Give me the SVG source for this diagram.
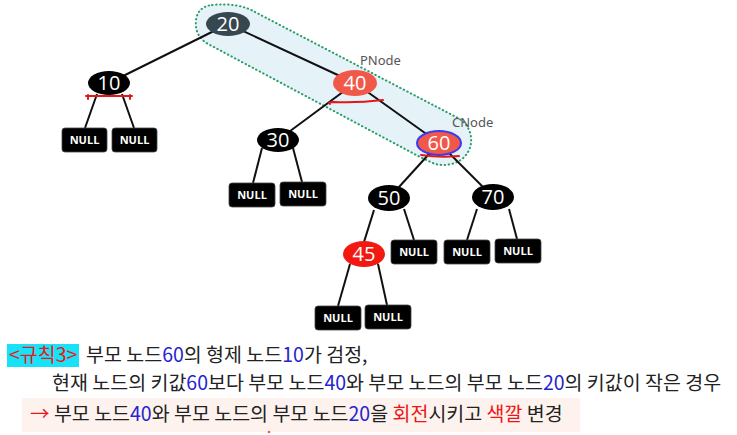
<svg xmlns="http://www.w3.org/2000/svg" width="737" height="435" viewBox="0 0 737 435">
<style>
.edge{stroke:#111;stroke-width:2;fill:none}
.node text{font-family:"Open Sans","Noto Sans",sans-serif;font-size:20px;fill:#fff;text-anchor:middle}
.nul rect{fill:#000;stroke:#444;stroke-width:0.8}
.nul text{font-family:"Open Sans","Noto Sans",sans-serif;font-size:11px;font-weight:bold;fill:#fff;text-anchor:middle}
.lbl{font-family:"Noto Sans","Open Sans",sans-serif;font-size:13px;fill:#555}
.kr{font-family:"Noto Sans CJK KR","Noto Sans",sans-serif;font-size:19.5px;fill:#222}
.b{fill:#2424d0}
.r{fill:#ee1515}
.mark{fill:none;stroke:#e01818;stroke-width:2;stroke-linecap:round}
</style>
<rect width="737" height="435" fill="#fff"/>
<g id="highlight">
<path d="M212 5 C230 3 245 6 255 12 L458 118 C472 126 474 142 468 152 C462 163 448 167 435 164 L420 157 L210 45 C198 39 195 30 196 20 C197 11 203 6 212 5 Z" fill="#e5f2f7" stroke="#2a9d6b" stroke-width="2" stroke-dasharray="0.5 3.5" stroke-linecap="round"/>
</g>
<g id="connectors">
<line class="edge" x1="228" y1="24" x2="109" y2="83"/>
<line class="edge" x1="228" y1="24" x2="355" y2="83"/>
<line class="edge" x1="355" y1="83" x2="278" y2="140"/>
<line class="edge" x1="355" y1="83" x2="439" y2="143"/>
<line class="edge" x1="439" y1="143" x2="389" y2="198"/>
<line class="edge" x1="439" y1="143" x2="493" y2="197"/>
<line class="edge" x1="374" y1="210" x2="364" y2="242"/>
<line class="edge" x1="97" y1="94" x2="85" y2="128"/>
<line class="edge" x1="122" y1="94" x2="134" y2="128"/>
<line class="edge" x1="262" y1="148" x2="253" y2="183"/>
<line class="edge" x1="293" y1="148" x2="302" y2="182"/>
<line class="edge" x1="404" y1="209" x2="414" y2="240"/>
<line class="edge" x1="477" y1="209" x2="467" y2="240"/>
<line class="edge" x1="509" y1="209" x2="517" y2="239"/>
<line class="edge" x1="350" y1="264" x2="338" y2="306"/>
<line class="edge" x1="378" y1="264" x2="387" y2="305"/>
</g>
<g id="n20" class="node"><ellipse cx="228" cy="24" rx="22" ry="12" fill="#37474f"/><text x="228" y="31">20</text></g>
<g id="n10" class="node"><ellipse cx="109" cy="83" rx="21" ry="12" fill="#000"/><text x="109" y="90">10</text></g>
<g id="n40" class="node"><ellipse cx="355" cy="83" rx="22" ry="13" fill="#f0584a"/><text x="355" y="90">40</text></g>
<g id="n30" class="node"><ellipse cx="278" cy="140" rx="21" ry="12" fill="#000"/><text x="278" y="147">30</text></g>
<g id="n60" class="node"><ellipse cx="439" cy="143" rx="22" ry="12" fill="#f0584a" stroke="#3a3af0" stroke-width="2"/><text x="439" y="150">60</text></g>
<g id="n50" class="node"><ellipse cx="389" cy="198" rx="21" ry="13" fill="#000"/><text x="389" y="205">50</text></g>
<g id="n70" class="node"><ellipse cx="493" cy="197" rx="21" ry="13" fill="#000"/><text x="493" y="204">70</text></g>
<g id="n45" class="node"><ellipse cx="364" cy="254" rx="21" ry="13" fill="#f21a10"/><text x="364" y="261">45</text></g>
<g id="null10L" class="nul"><rect x="62" y="128" width="45" height="24" rx="3"/><text x="84.5" y="144">NULL</text></g>
<g id="null10R" class="nul"><rect x="112" y="128" width="45" height="24" rx="3"/><text x="134.5" y="144">NULL</text></g>
<g id="null30L" class="nul"><rect x="229" y="183" width="46" height="24" rx="3"/><text x="252" y="199">NULL</text></g>
<g id="null30R" class="nul"><rect x="280" y="182" width="46" height="24" rx="3"/><text x="303" y="198">NULL</text></g>
<g id="null50R" class="nul"><rect x="391" y="240" width="46" height="24" rx="3"/><text x="414" y="256">NULL</text></g>
<g id="null70L" class="nul"><rect x="444" y="240" width="46" height="24" rx="3"/><text x="467" y="256">NULL</text></g>
<g id="null70R" class="nul"><rect x="495" y="239" width="46" height="24" rx="3"/><text x="518" y="255">NULL</text></g>
<g id="null45L" class="nul"><rect x="315" y="306" width="46" height="24" rx="3"/><text x="338" y="322">NULL</text></g>
<g id="null45R" class="nul"><rect x="365" y="305" width="46" height="24" rx="3"/><text x="388" y="321">NULL</text></g>
<g id="marks">
<path class="mark" d="M86 96 L132 96 M88 95 L88 99 M130 95 L130 99"/>
<path class="mark" d="M330 104 Q327 102 334 102 Q358 103 383 100" stroke-width="2.5"/>
<path class="mark" d="M421 155 Q440 158 459 156" stroke="#c0103a"/>
</g>
<text class="lbl" x="360" y="65">PNode</text>
<text class="lbl" x="452" y="127">CNode</text>
<g id="caption">
<rect x="7" y="344" width="72" height="23" fill="#18e2f8"/>
<text class="kr r" x="9" y="362">&lt;규칙3&gt;</text>
<text class="kr" x="86" y="362">부모 노드<tspan class="b">60</tspan>의 형제 노드<tspan class="b">10</tspan>가 검정,</text>
<text class="kr" x="52" y="390">현재 노드의 키값<tspan class="b">60</tspan>보다 부모 노드<tspan class="b">40</tspan>와 부모 노드의 부모 노드<tspan class="b">20</tspan>의 키값이 작은 경우</text>
<rect x="22" y="398" width="558" height="34" fill="#fdf2ee"/>
<text class="kr" x="30" y="421"><tspan class="r">→</tspan> 부모 노드<tspan class="b">40</tspan>와 부모 노드의 부모 노드<tspan class="b">20</tspan>을 <tspan class="r">회전</tspan>시키고 <tspan class="r">색깔</tspan> 변경</text>
<circle cx="269" cy="432" r="1.3" fill="#e06060"/>
</g>
</svg>
